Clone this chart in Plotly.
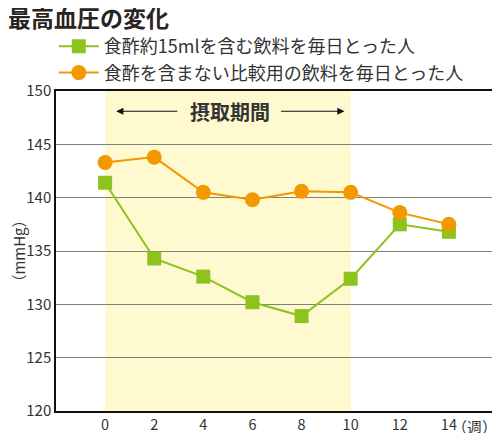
import plotly.graph_objects as go

# 週ごとの最高血圧 (mmHg)
weeks = [0, 2, 4, 6, 8, 10, 12, 14]
vinegar = [141.4, 134.3, 132.6, 130.2, 128.9, 132.4, 137.5, 136.8]
placebo = [143.3, 143.8, 140.5, 139.8, 140.6, 140.5, 138.6, 137.5]

name_vinegar = "食酢約15mlを含む飲料を毎日とった人"
name_placebo = "食酢を含まない比較用の飲料を毎日とった人"

green = "#8DC21F"
orange = "#F39800"
font_jp = "Noto Sans CJK JP"

fig = go.Figure()
fig.add_trace(go.Scatter(
    x=weeks, y=vinegar, name=name_vinegar,
    mode="lines+markers",
    line=dict(color=green, width=2),
    marker=dict(symbol="square", size=14, color=green),
))
fig.add_trace(go.Scatter(
    x=weeks, y=placebo, name=name_placebo,
    mode="lines+markers",
    line=dict(color=orange, width=2),
    marker=dict(symbol="circle", size=15, color=orange),
))

# 摂取期間の背景
fig.add_shape(type="rect", xref="x", yref="y", x0=0, x1=10, y0=120, y1=150,
              fillcolor="#FFF9D0", line_width=0, layer="below")

# 矢印と「摂取期間」
arrow_y = 148.1
fig.add_annotation(x=0.45, y=arrow_y, ax=3.0, ay=arrow_y, xref="x", yref="y",
                   axref="x", ayref="y", text="", showarrow=True,
                   arrowhead=2, arrowsize=1.2, arrowwidth=1.2, arrowcolor="#111")
fig.add_annotation(x=9.75, y=arrow_y, ax=7.1, ay=arrow_y, xref="x", yref="y",
                   axref="x", ayref="y", text="", showarrow=True,
                   arrowhead=2, arrowsize=1.2, arrowwidth=1.2, arrowcolor="#111")
fig.add_annotation(x=5.1, y=arrow_y, xref="x", yref="y", text="<b>摂取期間</b>",
                   showarrow=False, font=dict(family=font_jp, size=20, color="#333"))

# 単位（週）
fig.add_annotation(x=1.0, y=0, xref="paper", yref="paper", xanchor="right", yanchor="top",
                   xshift=1, yshift=-3, text="（週）", showarrow=False,
                   font=dict(family=font_jp, size=15, color="#333"))

# ページ余白 (8px) を差し引いたサイズ
fig.update_layout(
    width=492, height=425,
    margin=dict(l=48, r=2, t=83, b=22, autoexpand=False),
    paper_bgcolor="white", plot_bgcolor="white",
    font=dict(family=font_jp, color="#333"),
    title=dict(text="<b>最高血圧の変化</b>", x=0.0, xanchor="left", y=0.993, yanchor="top",
               font=dict(family=font_jp, size=23, color="#2a2420")),
    legend=dict(x=-0.005, xanchor="left", y=1.0, yanchor="bottom",
                font=dict(family=font_jp, size=18, color="#333"),
                bgcolor="rgba(0,0,0,0)", tracegroupgap=0, itemwidth=40),
    showlegend=True,
)

fig.update_xaxes(range=[-2, 16], tickvals=weeks, ticks="", showgrid=False, zeroline=False,
                 showline=True, linecolor="#111", linewidth=1.5, mirror=True,
                 automargin=False,
                 tickfont=dict(family=font_jp, size=14.5, color="#333"))
fig.update_yaxes(range=[120, 150], dtick=5, ticks="", showgrid=True, gridcolor="#808080",
                 gridwidth=1, zeroline=False, showline=True, linecolor="#111",
                 linewidth=1.5, mirror=True, automargin=False,
                 title=dict(text="（mmHg）", font=dict(family=font_jp, size=15, color="#333"),
                            standoff=4),
                 tickfont=dict(family=font_jp, size=15, color="#333"))

fig.write_html("out.html")
